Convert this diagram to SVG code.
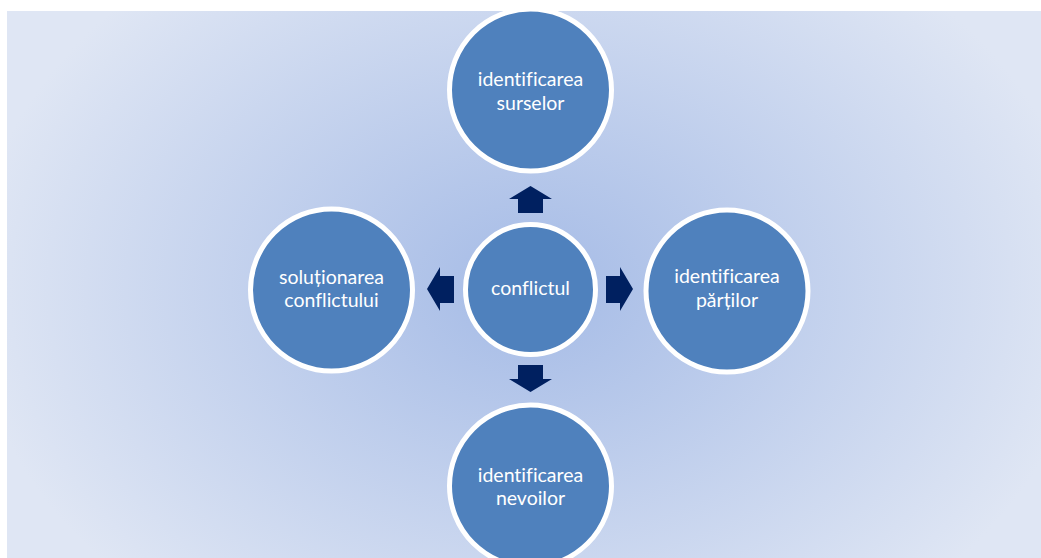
<svg xmlns="http://www.w3.org/2000/svg" width="1041" height="558" viewBox="0 0 1041 558">
  <style>
    .node circle { fill: #4f81bd; stroke: #ffffff; stroke-width: 5; }
    .node text { fill: #ffffff; font-family: Lato, "Open Sans", sans-serif; font-size: 19.5px; text-anchor: middle; font-variant-ligatures: none; }
    .arrow { fill: #002060; }
  </style>
  <defs>
    <radialGradient id="bg" cx="530" cy="290" r="560" gradientUnits="userSpaceOnUse" gradientTransform="translate(530 290) scale(1 0.75) translate(-530 -290)">
      <stop offset="0" stop-color="#a5bbe6"/>
      <stop offset="1" stop-color="#dfe6f4"/>
    </radialGradient>
    <clipPath id="panel">
      <rect x="7" y="11" width="1034" height="547"/>
    </clipPath>
  </defs>

  <rect width="1041" height="558" fill="#ffffff"/>
  <rect x="7" y="11" width="1034" height="547" fill="url(#bg)"/>

  <g clip-path="url(#panel)">
    <g id="connectors">
      <!-- up -->
      <polygon class="arrow" points="530.5,186 552,199 543,199 543,213 518,213 518,199 509,199"/>
      <!-- down -->
      <polygon class="arrow" points="530.5,392 552,379 543,379 543,365 518,365 518,379 509,379"/>
      <!-- right -->
      <polygon class="arrow" points="633,289 620,267 620,276 606,276 606,303 620,303 620,311"/>
      <!-- left -->
      <polygon class="arrow" points="427,289 440,267 440,276 454,276 454,303 440,303 440,311"/>
    </g>

    <g id="node-center" class="node">
      <circle cx="530.5" cy="289.5" r="65"/>
      <text x="530.5" y="295">conflictul</text>
    </g>

    <g id="node-top" class="node">
      <circle cx="530.5" cy="90" r="81"/>
      <text x="530.5" y="86">identificarea</text>
      <text x="530.5" y="110">surselor</text>
    </g>

    <g id="node-right" class="node">
      <circle cx="727" cy="291" r="81"/>
      <text x="727" y="283">identificarea</text>
      <text x="727" y="307">părților</text>
    </g>

    <g id="node-bottom" class="node">
      <circle cx="530.5" cy="486" r="81"/>
      <text x="530.5" y="482">identificarea</text>
      <text x="530.5" y="505">nevoilor</text>
    </g>

    <g id="node-left" class="node">
      <circle cx="331.5" cy="290" r="81"/>
      <text x="331.5" y="284">soluționarea</text>
      <text x="331.5" y="307">conflictului</text>
    </g>
  </g>
</svg>
